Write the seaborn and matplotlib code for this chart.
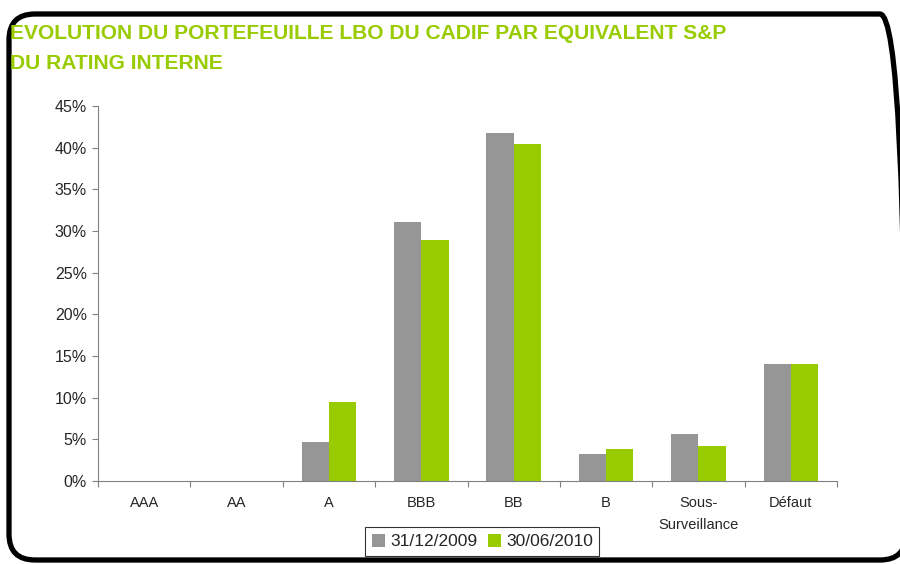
import pandas as pd
import matplotlib.pyplot as plt
import seaborn as sns
from matplotlib.patches import FancyBboxPatch
from matplotlib.ticker import FixedLocator, PercentFormatter

# chart data
ratings = ["AAA", "AA", "A", "BBB", "BB", "B", "Sous-\nSurveillance", "Défaut"]
values_2009 = [0.0, 0.0, 4.7, 31.1, 41.8, 3.2, 5.7, 14.1]
values_2010 = [0.0, 0.0, 9.5, 28.9, 40.4, 3.8, 4.2, 14.1]
series_labels = ["31/12/2009", "30/06/2010"]
y_ticks = [0, 5, 10, 15, 20, 25, 30, 35, 40, 45]

GRAY = "#969696"
GREEN = "#99CC00"

df = pd.DataFrame({
    "Rating": ratings * 2,
    "Part": values_2009 + values_2010,
    "Date": [series_labels[0]] * len(ratings) + [series_labels[1]] * len(ratings),
})

sns.set_theme(style="white")
plt.rcParams["font.family"] = ["Liberation Sans", "DejaVu Sans"]

fig = plt.figure(figsize=(9, 5.64), dpi=100)

# background layer in pixel units for the rounded frame
bg = fig.add_axes([0, 0, 1, 1], zorder=-1)
bg.set_xlim(0, 900)
bg.set_ylim(0, 564)
bg.axis("off")
bg.add_patch(FancyBboxPatch((9, 4), 897, 546,
                            boxstyle="round,pad=0,rounding_size=26",
                            fill=False, edgecolor="black", linewidth=3.8,
                            clip_on=False))

ax = fig.add_axes([0.109, 0.147, 0.821, 0.665])
ax.patch.set_alpha(0)

sns.barplot(
    data=df, x="Rating", y="Part", hue="Date",
    palette=[GRAY, GREEN], width=0.59, saturation=1,
    linewidth=0, ax=ax,
)

ax.set_ylim(0, 45)
ax.set_xlim(-0.5, len(ratings) - 0.5)
ax.yaxis.set_major_locator(FixedLocator(y_ticks))
ax.yaxis.set_major_formatter(PercentFormatter(decimals=0))
ax.set_xlabel("")
ax.set_ylabel("")

for side in ["top", "right"]:
    ax.spines[side].set_visible(False)
for side in ["left", "bottom"]:
    ax.spines[side].set_color("#808080")
    ax.spines[side].set_linewidth(0.8)

ax.tick_params(axis="y", which="major", direction="out", length=4, width=0.8,
               color="#808080", labelsize=11.5, pad=4, left=True)
ax.tick_params(axis="x", which="major", length=0, labelsize=10.5, pad=11)
ax.xaxis.set_minor_locator(FixedLocator([i - 0.5 for i in range(len(ratings) + 1)]))
ax.tick_params(axis="x", which="minor", direction="out", length=4, width=0.8,
               color="#808080", bottom=True)
for lbl in ax.get_xticklabels():
    lbl.set_verticalalignment("top")
    lbl.set_linespacing(1.7)

ax.legend(loc="upper center", bbox_to_anchor=(0.52, -0.1), ncol=2, frameon=True,
          fancybox=False, edgecolor="#000000", fontsize=12.5, handlelength=0.75,
          handleheight=0.75, handletextpad=0.3, columnspacing=0.6, borderpad=0.38)
ax.get_legend().get_frame().set_linewidth(0.8)

fig.text(0.011, 0.941, "EVOLUTION DU PORTEFEUILLE LBO DU CADIF PAR EQUIVALENT S&P",
         color=GREEN, fontsize=15.1, fontweight="bold", va="center")
fig.text(0.011, 0.888, "DU RATING INTERNE",
         color=GREEN, fontsize=15.1, fontweight="bold", va="center")

fig.savefig("out.png", dpi=100)
